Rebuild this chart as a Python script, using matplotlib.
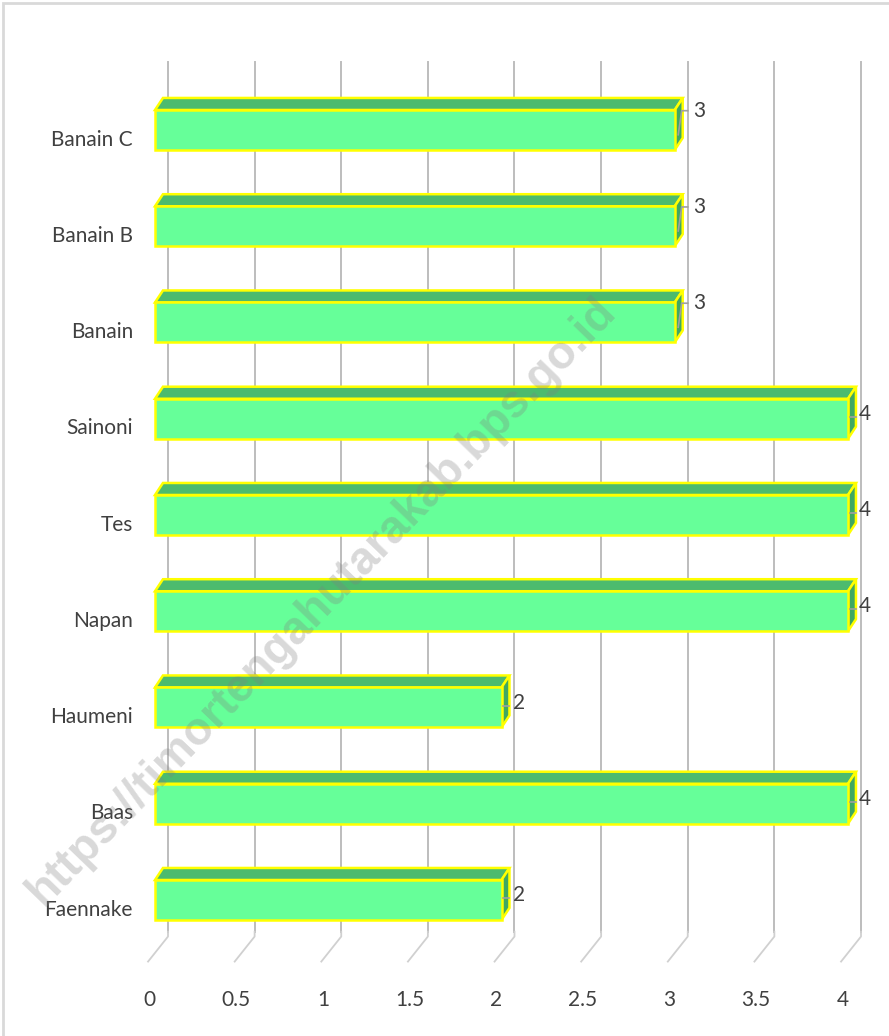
import numpy as np
import matplotlib
matplotlib.use("Agg")
import matplotlib.pyplot as plt
from matplotlib.patches import Polygon, Rectangle

# Data (bottom to top)
villages = ["Faennake", "Baas", "Haumeni", "Napan", "Tes", "Sainoni",
            "Banain", "Banain B", "Banain C"]
counts = [2, 4, 2, 4, 4, 4, 3, 3, 3]
x_ticks = [0, 0.5, 1, 1.5, 2, 2.5, 3, 3.5, 4]
x_tick_labels = ["0", "0.5", "1", "1.5", "2", "2.5", "3", "3.5", "4"]

# style
FRONT = "#66FF99"
TOP = "#4CBB6E"
SIDE = "#3FA862"
EDGE = "#FFFF00"
GRID = "#BDBDBD"
TEXT = "#404040"
FONT = ["Lato", "DejaVu Sans"]

fig = plt.figure(figsize=(8.89, 10.36), dpi=100)
ax = fig.add_axes([155 / 889, 1 - 935 / 1036, 693 / 889, 873 / 1036])
ax.set_xlim(0, 4)
ax.set_ylim(-0.364, 8.706)
ax.axis("off")

# 3d offsets (data units)
dx, dy = 0.046, 0.125     # bar depth
wall_dx = 0.075           # back wall shift
h = 0.415                 # bar height

# back wall gridlines + floor marks
for v, lab in zip(x_ticks, x_tick_labels):
    ax.plot([v + wall_dx, v + wall_dx], [-0.33, 8.706], color=GRID, lw=1.4,
            zorder=1, clip_on=False)
    ax.plot([v + wall_dx, v + wall_dx, v - 0.04], [-0.33, -0.38, -0.64],
            color="#D0D0D0", lw=1.3, zorder=1, clip_on=False)
    ax.text(v - 0.03, -1.04, lab, ha="center", va="center", fontsize=15,
            color=TEXT, family=FONT, clip_on=False)

# bars
for i, (name, v) in enumerate(zip(villages, counts)):
    y0, y1 = i - h / 2, i + h / 2
    top = Polygon([(0, y1), (v, y1), (v + dx, y1 + dy), (dx, y1 + dy)],
                  closed=True, facecolor=TOP, edgecolor=EDGE, lw=1.8,
                  zorder=3, clip_on=False)
    side = Polygon([(v, y0), (v + dx, y0 + dy), (v + dx, y1 + dy), (v, y1)],
                   closed=True, facecolor=SIDE, edgecolor=EDGE, lw=1.8,
                   zorder=3, clip_on=False)
    front = Rectangle((0, y0), v, h, facecolor=FRONT, edgecolor=EDGE, lw=1.8,
                      zorder=4, clip_on=False)
    ax.add_patch(top)
    ax.add_patch(side)
    ax.add_patch(front)

    # data label with small leader
    if v == 3:
        lx, ly = v + 0.14, i + 0.2
        ax.plot([v + 0.02, v + 0.04, v + 0.075], [i - 0.05, i + 0.2, i + 0.2],
                color="#A0A0A0", lw=1.2, zorder=5, clip_on=False)
    else:
        lx, ly = v + 0.1, i + 0.05
        ax.plot([v + 0.01, v + 0.045], [i + 0.02, i + 0.02],
                color="#A0A0A0", lw=1.2, zorder=5, clip_on=False)
    ax.text(lx, ly, str(v), ha="center", va="center", fontsize=15,
            color=TEXT, family=FONT, zorder=6, clip_on=False)

    # category label
    ax.text(-0.127, i - 0.1, name, ha="right", va="center", fontsize=15,
            color=TEXT, family=FONT, clip_on=False)

# watermark
fig.text(0.362, 0.419, "https://timortengahutarakab.bps.go.id", rotation=46,
         ha="center", va="center", fontsize=33, fontweight="bold",
         color="gray", alpha=0.3, family=["Liberation Sans", "DejaVu Sans"],
         zorder=10)

# chart border (top and left visible)
fig.patches.append(Rectangle((3 / 889, -0.05), 1.1, 1 - 3 / 1036 + 0.05,
                             transform=fig.transFigure, fill=False,
                             edgecolor="#D9D9D9", lw=2))

fig.savefig("out.png", dpi=100)
